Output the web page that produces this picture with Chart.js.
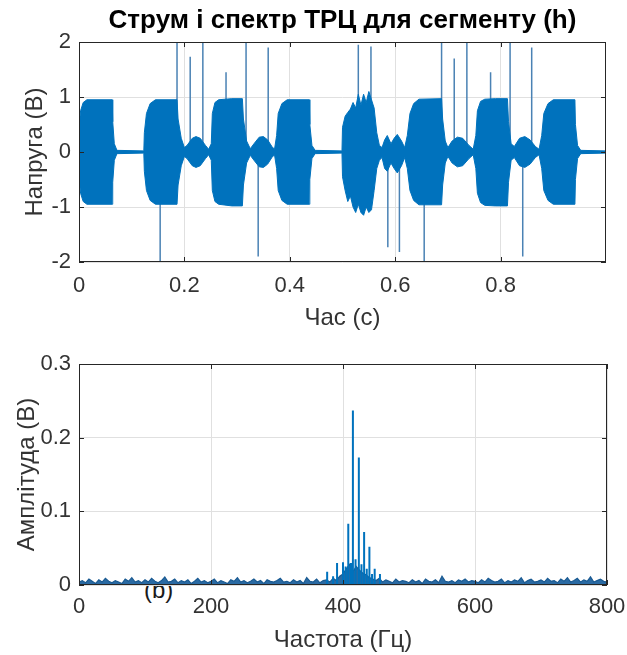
<!DOCTYPE html>
<html>
<head>
<meta charset="utf-8">
<script src="https://cdn.jsdelivr.net/npm/chart.js@4.4.1/dist/chart.umd.min.js"></script>
<style>
  body { margin: 0; background: #fff; }
  #wrap { position: relative; width: 627px; height: 655px; }
  canvas { position: absolute; left: 0; }
  #top { top: 0; z-index: 2; }
  #bottom { top: 330px; z-index: 1; }
  #tag { position: absolute; left: 144px; top: 576px; z-index: 0;
         font: 24px 'Liberation Sans', Arial, sans-serif; color: #1a1a1a; }
</style>
</head>
<body>
<div id="wrap">
  <div id="tag">(b)</div>
  <canvas id="top" width="627" height="340"></canvas>
  <canvas id="bottom" width="627" height="325"></canvas>
</div>
<script>
// top panel: envelope of the current signal (time, upper, lower)
const envT  = [0.000,0.003,0.008,0.015,0.063,0.064,0.067,0.072,0.123,0.124,0.128,0.135,0.145,0.186,0.188,0.194,0.200,0.205,0.215,0.222,0.230,0.240,0.246,0.251,0.253,0.258,0.265,0.290,0.310,0.312,0.318,0.325,0.332,0.342,0.350,0.358,0.366,0.371,0.375,0.378,0.385,0.395,0.437,0.438,0.442,0.448,0.499,
               0.500,0.505,0.510,0.515,0.520,0.525,0.530,0.535,0.540,0.545,0.550,0.555,0.560,0.565,0.570,0.575,0.580,0.585,0.592,0.598,0.604,0.612,0.618,0.623,0.628,0.635,0.645,0.688,0.690,0.695,0.700,0.708,0.718,0.728,0.740,0.748,0.753,0.756,0.762,0.770,0.790,0.813,0.815,0.820,0.826,0.836,0.846,0.856,0.866,0.873,0.878,0.882,0.890,0.900,0.941,0.942,0.946,0.952,1.000];
const envHi = [0.45,0.75,0.90,0.95,0.95,0.55,0.15,0.03,0.02,0.35,0.70,0.88,0.95,0.95,0.60,0.25,0.08,0.12,0.25,0.28,0.25,0.12,0.05,0.15,0.70,0.90,0.95,0.97,0.97,0.60,0.20,0.06,0.15,0.27,0.28,0.22,0.10,0.05,0.30,0.70,0.88,0.95,0.95,0.50,0.12,0.03,0.02,
               0.45,0.65,0.72,0.78,0.90,0.80,1.05,0.85,1.05,0.90,1.10,0.95,0.80,0.35,0.12,0.08,0.22,0.30,0.15,0.25,0.32,0.20,0.08,0.30,0.70,0.88,0.96,0.97,0.60,0.20,0.08,0.20,0.27,0.25,0.12,0.05,0.30,0.75,0.92,0.96,0.97,0.97,0.55,0.15,0.10,0.25,0.28,0.22,0.10,0.05,0.30,0.70,0.88,0.95,0.95,0.50,0.12,0.03,0.02];
const envLo = [-0.45,-0.75,-0.90,-0.95,-0.95,-0.55,-0.15,-0.03,-0.02,-0.35,-0.70,-0.88,-0.95,-0.95,-0.60,-0.25,-0.08,-0.12,-0.25,-0.28,-0.25,-0.12,-0.05,-0.15,-0.70,-0.90,-0.95,-0.98,-0.98,-0.60,-0.20,-0.06,-0.15,-0.27,-0.28,-0.22,-0.10,-0.05,-0.30,-0.70,-0.88,-0.95,-0.95,-0.50,-0.12,-0.03,-0.02,
               -0.45,-0.70,-0.90,-0.80,-1.00,-1.10,-0.95,-1.10,-1.15,-1.00,-1.10,-1.05,-0.70,-0.30,-0.15,-0.10,-0.30,-0.35,-0.20,-0.30,-0.38,-0.25,-0.10,-0.30,-0.70,-0.88,-0.96,-0.96,-0.60,-0.20,-0.08,-0.20,-0.27,-0.25,-0.12,-0.05,-0.30,-0.75,-0.92,-0.97,-0.98,-0.98,-0.55,-0.15,-0.10,-0.25,-0.28,-0.22,-0.10,-0.05,-0.30,-0.70,-0.88,-0.95,-0.95,-0.50,-0.12,-0.03,-0.02];

// top panel: isolated spikes (time, peak)
const spikeT    = [0.154,0.186,0.211,0.235,0.279,0.317,0.340,0.359,0.530,0.554,0.586,0.608,0.655,0.688,0.712,0.736,0.781,0.818,0.842,0.859];
const spikePeak = [-2.2, 2.2, 1.73, 2.2, 1.45, 2.2, -1.9, 1.9, 1.95, 1.92, -1.73, -1.82, -2.2, 2.2, 1.7, 2.2, 1.45, 2.2, -1.9, 1.9];

const timeTicks = [0, 0.2, 0.4, 0.6, 0.8];
const voltTicks = [-2, -1, 0, 1, 2];

// bottom panel: spectrum noise floor, 5 Hz bins from 0 to 800 Hz
const binHz = 5;
const noiseAmp = [
  .004,.006,.003,.008,.005,.002,.007,.004,.009,.005,
  .003,.006,.004,.002,.008,.005,.010,.004,.006,.003,
  .007,.004,.009,.005,.003,.006,.011,.004,.005,.008,
  .003,.006,.004,.007,.002,.005,.009,.004,.006,.003,
  .005,.008,.003,.006,.004,.002,.007,.005,.010,.004,
  .006,.003,.005,.008,.004,.006,.002,.007,.005,.004,
  .006,.009,.004,.005,.003,.007,.004,.006,.002,.010,
  .005,.004,.008,.003,.006,.007,.004,.009,.006,.012,
  .015,.022,.028,.018,.025,.020,.016,.014,.010,.008,
  .006,.009,.004,.007,.005,.003,.008,.004,.006,.005,
  .003,.007,.004,.006,.002,.008,.005,.004,.007,.003,
  .012,.005,.004,.006,.003,.007,.005,.008,.004,.006,
  .005,.003,.007,.004,.009,.006,.004,.005,.008,.003,
  .006,.004,.007,.005,.010,.003,.006,.008,.004,.005,
  .007,.004,.009,.005,.006,.003,.008,.005,.010,.004,
  .006,.009,.004,.007,.005,.011,.004,.006,.008,.005,
  .004
];
// bottom panel: spectral lines around 415 Hz
const peakHz  = [376, 385, 391, 400, 404, 408, 412, 415, 419, 424, 428, 432, 436, 440, 444, 448, 456];
const peakAmp = [0.018,0.012,0.030,0.031,0.025,0.083,0.030,0.237,0.035,0.173,0.028,0.072,0.022,0.052,0.015,0.022,0.015];

const freqTicks = [0, 200, 400, 600, 800];
const ampTicks  = [0, 0.1, 0.2, 0.3];

Chart.defaults.font.family = "'Liberation Sans', Arial, sans-serif";
Chart.defaults.color = '#333';

const blue = '#0072BD';
const axisColor = '#262626';
const gridColor = '#e0e0e0';

// vertical line segments from 0 to each value, broken by nulls
function stems(xs, ys) {
  const pts = [];
  xs.forEach((x, i) => {
    pts.push({x: x, y: 0}, {x: x, y: ys[i]}, {x: x, y: null});
  });
  return pts;
}

// MATLAB-like box with inward ticks and white plot area
const boxPlugin = {
  id: 'box',
  beforeDraw(chart) {
    const a = chart.chartArea, ctx = chart.ctx;
    ctx.save();
    ctx.fillStyle = '#fff';
    ctx.fillRect(a.left, a.top, a.right - a.left, a.bottom - a.top);
    ctx.restore();
  },
  afterDraw(chart) {
    const a = chart.chartArea, ctx = chart.ctx;
    const sx = chart.scales.x, sy = chart.scales.y;
    ctx.save();
    ctx.strokeStyle = axisColor;
    ctx.lineWidth = 1;
    ctx.strokeRect(Math.round(a.left) + 0.5, Math.round(a.top) + 0.5,
                   Math.round(a.right - a.left) - 1, Math.round(a.bottom - a.top) - 1);
    ctx.beginPath();
    sx.ticks.forEach(t => {
      const px = Math.round(sx.getPixelForValue(t.value)) + 0.5;
      ctx.moveTo(px, a.bottom); ctx.lineTo(px, a.bottom - 5);
      ctx.moveTo(px, a.top); ctx.lineTo(px, a.top + 5);
    });
    sy.ticks.forEach(t => {
      const py = Math.round(sy.getPixelForValue(t.value)) + 0.5;
      ctx.moveTo(a.left, py); ctx.lineTo(a.left + 5, py);
      ctx.moveTo(a.right, py); ctx.lineTo(a.right - 5, py);
    });
    ctx.stroke();
    ctx.restore();
  }
};

function axis(min, max, tickList, title, isY, size, tickPad, titlePad) {
  return {
    type: 'linear',
    min: min,
    max: max,
    afterBuildTicks: s => { s.ticks = tickList.map(v => ({value: v})); },
    afterFit: s => {
      if (isY) { s.width = size; s.paddingTop = 0; s.paddingBottom = 0; }
      else { s.height = size; s.paddingLeft = 0; s.paddingRight = 0; }
    },
    border: {display: false},
    grid: {color: gridColor, drawTicks: false},
    ticks: {font: {size: 22}, color: '#333', padding: tickPad, callback: v => String(v), maxRotation: 0},
    title: {display: true, text: title, font: {size: 24}, color: '#333', padding: titlePad}
  };
}

new Chart(document.getElementById('top'), {
  type: 'line',
  data: {
    datasets: [
      {data: envT.map((t, i) => ({x: t, y: envHi[i]})), borderColor: blue, backgroundColor: blue,
       borderWidth: 1, pointRadius: 0, fill: '+1', order: 1},
      {data: envT.map((t, i) => ({x: t, y: envLo[i]})), borderColor: blue, backgroundColor: blue,
       borderWidth: 1, pointRadius: 0, fill: false, order: 1},
      {data: stems(spikeT, spikePeak), borderColor: '#4a82b4', borderWidth: 1.5,
       pointRadius: 0, fill: false, spanGaps: false, order: 2}
    ]
  },
  options: {
    responsive: false,
    animation: false,
    layout: {padding: {left: 0, right: 21, top: 0, bottom: 0}},
    plugins: {
      legend: {display: false},
      tooltip: {enabled: false},
      title: {display: true, fullSize: false, text: 'Струм і спектр ТРЦ для сегменту (h)', color: '#000',
              font: {size: 26, weight: 'bold'}, padding: {top: 5.4, bottom: 5.4}}
    },
    scales: {
      x: axis(0, 1, timeTicks, 'Час (с)', false, 78, 11, {top: 0, bottom: 7.6}),
      y: axis(-2, 2, voltTicks, 'Напруга (В)', true, 79, 8, {top: 20.6, bottom: 0})
    }
  },
  plugins: [boxPlugin]
});

new Chart(document.getElementById('bottom'), {
  type: 'line',
  data: {
    datasets: [
      {data: noiseAmp.map((a, i) => ({x: i * binHz, y: a})), borderColor: '#1a5a92',
       backgroundColor: '#2a6aa3', borderWidth: 1.2, pointRadius: 0, fill: 'origin', order: 2},
      {data: stems(peakHz, peakAmp), borderColor: blue, borderWidth: 2,
       pointRadius: 0, fill: false, spanGaps: false, order: 1}
    ]
  },
  options: {
    responsive: false,
    animation: false,
    layout: {padding: {left: 0, right: 20, top: 34, bottom: 0}},
    plugins: {legend: {display: false}, tooltip: {enabled: false}},
    scales: {
      x: axis(0, 800, freqTicks, 'Частота (Гц)', false, 70, 9, {top: 0, bottom: 0.6}),
      y: axis(0, 0.3, ampTicks, 'Амплітуда (В)', true, 79, 8, {top: 12.6, bottom: 0})
    }
  },
  plugins: [boxPlugin]
});
</script>
</body>
</html>
